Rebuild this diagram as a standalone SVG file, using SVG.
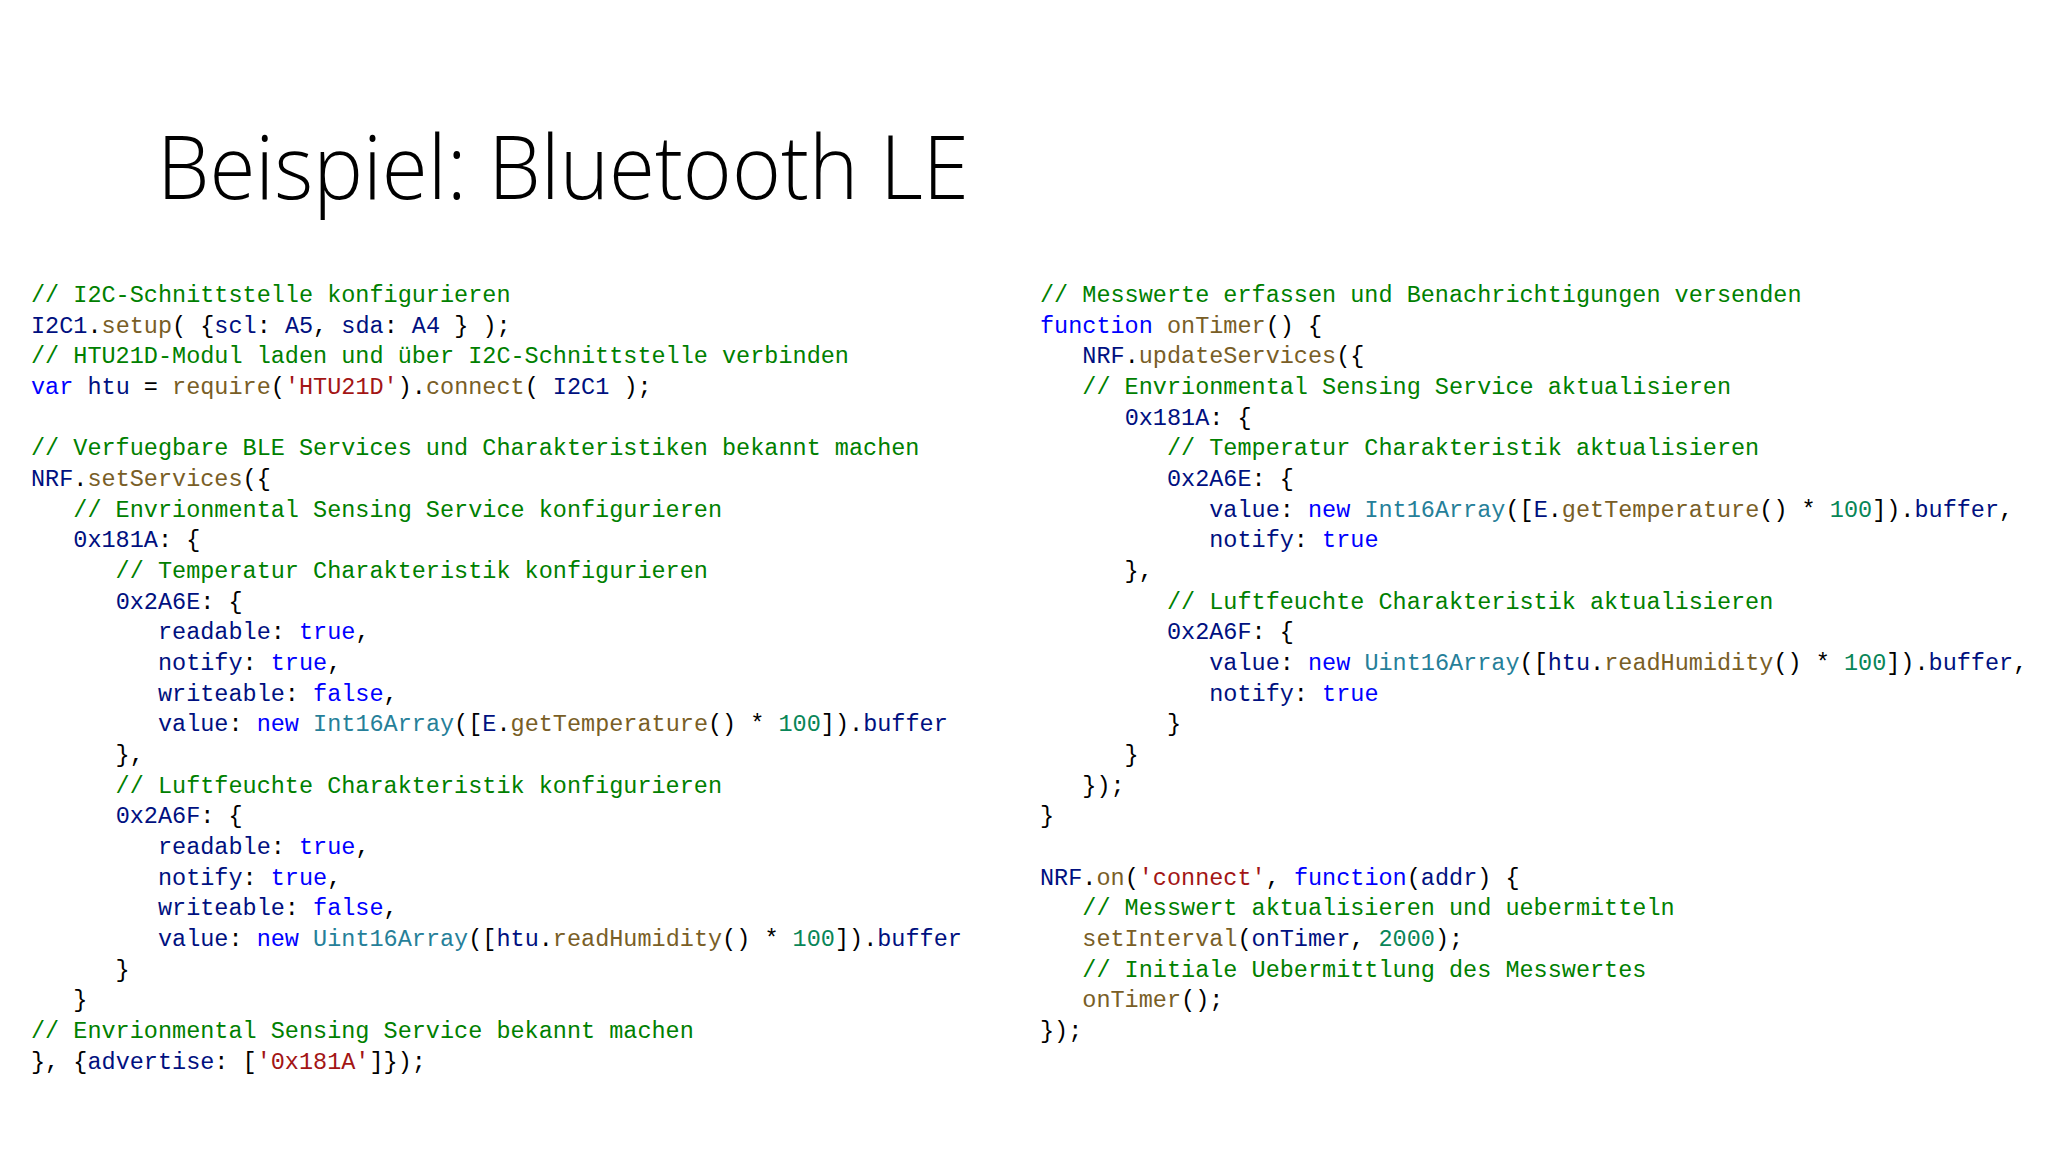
<svg xmlns="http://www.w3.org/2000/svg" width="2048" height="1152" viewBox="0 0 2048 1152">
<style>
text{font-family:"Liberation Mono",monospace;font-size:23.5px;fill:#000;white-space:pre}
.c{fill:#008000}.k{fill:#0000ff}.i{fill:#001080}.f{fill:#795e26}.s{fill:#a31515}.n{fill:#098658}.t{fill:#267f99}
.title{font-family:"Open Sans","Liberation Sans",sans-serif;font-size:88px;font-weight:300;fill:#000}
</style>
<rect width="2048" height="1152" fill="#fff"/>
<g id="title"><text class="title" x="157" y="199" textLength="812" lengthAdjust="spacingAndGlyphs">Beispiel: Bluetooth LE</text></g>
<g id="left-code">
<text x="31" y="302" class="c">// I2C-Schnittstelle konfigurieren</text>
<text x="31" y="333"><tspan class="i">I2C1</tspan>.<tspan class="f">setup</tspan>( {<tspan class="i">scl</tspan>: <tspan class="i">A5</tspan>, <tspan class="i">sda</tspan>: <tspan class="i">A4</tspan> } );</text>
<text x="31" y="363" class="c">// HTU21D-Modul laden und über I2C-Schnittstelle verbinden</text>
<text x="31" y="394"><tspan class="k">var</tspan> <tspan class="i">htu</tspan> = <tspan class="f">require</tspan>(<tspan class="s">'HTU21D'</tspan>).<tspan class="f">connect</tspan>( <tspan class="i">I2C1</tspan> );</text>
<text x="31" y="455" class="c">// Verfuegbare BLE Services und Charakteristiken bekannt machen</text>
<text x="31" y="486"><tspan class="i">NRF</tspan>.<tspan class="f">setServices</tspan>({</text>
<text x="31" y="517" class="c">   // Envrionmental Sensing Service konfigurieren</text>
<text x="31" y="547">   <tspan class="i">0x181A</tspan>: {</text>
<text x="31" y="578" class="c">      // Temperatur Charakteristik konfigurieren</text>
<text x="31" y="609">      <tspan class="i">0x2A6E</tspan>: {</text>
<text x="31" y="639">         <tspan class="i">readable</tspan>: <tspan class="k">true</tspan>,</text>
<text x="31" y="670">         <tspan class="i">notify</tspan>: <tspan class="k">true</tspan>,</text>
<text x="31" y="701">         <tspan class="i">writeable</tspan>: <tspan class="k">false</tspan>,</text>
<text x="31" y="731">         <tspan class="i">value</tspan>: <tspan class="k">new</tspan> <tspan class="t">Int16Array</tspan>([<tspan class="i">E</tspan>.<tspan class="f">getTemperature</tspan>() * <tspan class="n">100</tspan>]).<tspan class="i">buffer</tspan></text>
<text x="31" y="762">      },</text>
<text x="31" y="793" class="c">      // Luftfeuchte Charakteristik konfigurieren</text>
<text x="31" y="823">      <tspan class="i">0x2A6F</tspan>: {</text>
<text x="31" y="854">         <tspan class="i">readable</tspan>: <tspan class="k">true</tspan>,</text>
<text x="31" y="885">         <tspan class="i">notify</tspan>: <tspan class="k">true</tspan>,</text>
<text x="31" y="915">         <tspan class="i">writeable</tspan>: <tspan class="k">false</tspan>,</text>
<text x="31" y="946">         <tspan class="i">value</tspan>: <tspan class="k">new</tspan> <tspan class="t">Uint16Array</tspan>([<tspan class="i">htu</tspan>.<tspan class="f">readHumidity</tspan>() * <tspan class="n">100</tspan>]).<tspan class="i">buffer</tspan></text>
<text x="31" y="977">      }</text>
<text x="31" y="1007">   }</text>
<text x="31" y="1038" class="c">// Envrionmental Sensing Service bekannt machen</text>
<text x="31" y="1069">}, {<tspan class="i">advertise</tspan>: [<tspan class="s">'0x181A'</tspan>]});</text>
</g>
<g id="right-code">
<text x="1040" y="302" class="c">// Messwerte erfassen und Benachrichtigungen versenden</text>
<text x="1040" y="333"><tspan class="k">function</tspan> <tspan class="f">onTimer</tspan>() {</text>
<text x="1040" y="363">   <tspan class="i">NRF</tspan>.<tspan class="f">updateServices</tspan>({</text>
<text x="1040" y="394" class="c">   // Envrionmental Sensing Service aktualisieren</text>
<text x="1040" y="425">      <tspan class="i">0x181A</tspan>: {</text>
<text x="1040" y="455" class="c">         // Temperatur Charakteristik aktualisieren</text>
<text x="1040" y="486">         <tspan class="i">0x2A6E</tspan>: {</text>
<text x="1040" y="517">            <tspan class="i">value</tspan>: <tspan class="k">new</tspan> <tspan class="t">Int16Array</tspan>([<tspan class="i">E</tspan>.<tspan class="f">getTemperature</tspan>() * <tspan class="n">100</tspan>]).<tspan class="i">buffer</tspan>,</text>
<text x="1040" y="547">            <tspan class="i">notify</tspan>: <tspan class="k">true</tspan></text>
<text x="1040" y="578">      },</text>
<text x="1040" y="609" class="c">         // Luftfeuchte Charakteristik aktualisieren</text>
<text x="1040" y="639">         <tspan class="i">0x2A6F</tspan>: {</text>
<text x="1040" y="670">            <tspan class="i">value</tspan>: <tspan class="k">new</tspan> <tspan class="t">Uint16Array</tspan>([<tspan class="i">htu</tspan>.<tspan class="f">readHumidity</tspan>() * <tspan class="n">100</tspan>]).<tspan class="i">buffer</tspan>,</text>
<text x="1040" y="701">            <tspan class="i">notify</tspan>: <tspan class="k">true</tspan></text>
<text x="1040" y="731">         }</text>
<text x="1040" y="762">      }</text>
<text x="1040" y="793">   });</text>
<text x="1040" y="823">}</text>
<text x="1040" y="885"><tspan class="i">NRF</tspan>.<tspan class="f">on</tspan>(<tspan class="s">'connect'</tspan>, <tspan class="k">function</tspan>(<tspan class="i">addr</tspan>) {</text>
<text x="1040" y="915" class="c">   // Messwert aktualisieren und uebermitteln</text>
<text x="1040" y="946">   <tspan class="f">setInterval</tspan>(<tspan class="i">onTimer</tspan>, <tspan class="n">2000</tspan>);</text>
<text x="1040" y="977" class="c">   // Initiale Uebermittlung des Messwertes</text>
<text x="1040" y="1007">   <tspan class="f">onTimer</tspan>();</text>
<text x="1040" y="1038">});</text>
</g>
</svg>
